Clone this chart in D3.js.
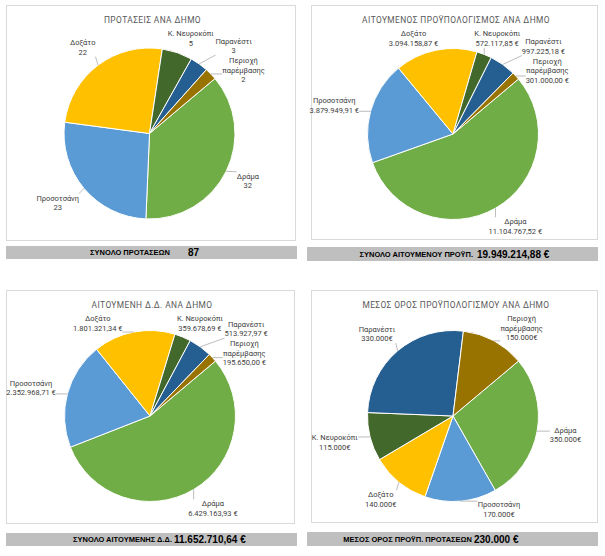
<!DOCTYPE html>
<html lang="el">
<head>
<meta charset="utf-8">
<title>Προτάσεις ανά Δήμο</title>
<script src="https://d3js.org/d3.v7.min.js"></script>
<style>
  body { margin: 0; background: #fff; }
  svg { display: block; }
  .ttl { font-family: Roboto, "Liberation Sans", sans-serif; font-size: 8.4px; fill: #595959; letter-spacing: 0.4px; }
  .lbl { font-family: Roboto, "Liberation Sans", sans-serif; font-size: 7.5px; fill: #404040; }
  .tot { font-family: "Liberation Sans", Arial, sans-serif; font-weight: bold; fill: #000; }
</style>
</head>
<body>
<div id="chart"></div>
<script>
// data (same municipality order in every pie)
var municipalities = ["Δράμα", "Προσοτσάνη", "Δοξάτο", "Κ. Νευροκόπι", "Παρανέστι", "Περιοχή παρέμβασης"];
var proposals = [32, 23, 22, 5, 3, 2];
var requestedBudget = [11104767.52, 3879949.91, 3094158.87, 572117.85, 997225.18, 301000.00];
var requestedPublic = [6429163.93, 2352968.71, 1801321.34, 359678.69, 513927.97, 195650.00];
var averageBudget = [350000, 170000, 140000, 115000, 330000, 150000];

var titles = ["ΠΡΟΤΑΣΕΙΣ ΑΝΑ ΔΗΜΟ", "ΑΙΤΟΥΜΕΝΟΣ ΠΡΟΫΠΟΛΟΓΙΣΜΟΣ ΑΝΑ ΔΗΜΟ",
              "ΑΙΤΟΥΜΕΝΗ Δ.Δ. ΑΝΑ ΔΗΜΟ", "ΜΕΣΟΣ ΟΡΟΣ ΠΡΟΫΠΟΛΟΓΙΣΜΟΥ ΑΝΑ ΔΗΜΟ"];
var totalLabels = ["ΣΥΝΟΛΟ ΠΡΟΤΑΣΕΩΝ", "ΣΥΝΟΛΟ ΑΙΤΟΥΜΕΝΟΥ ΠΡΟΫΠ.",
                   "ΣΥΝΟΛΟ ΑΙΤΟΥΜΕΝΗΣ Δ.Δ.", "ΜΕΣΟΣ ΟΡΟΣ ΠΡΟΫΠ. ΠΡΟΤΑΣΕΩΝ"];
var totals = [87, 19949214.88, 11652710.64, 230000];

var colors = ["#70AD47", "#5B9BD5", "#FFC000", "#43682B", "#255E91", "#997300"];

var gr = d3.formatLocale({decimal: ",", thousands: ".", grouping: [3], currency: ["", " €"]});
var fInt = gr.format(",d");
var fEur2 = function(v) { return gr.format(",.2f")(v) + " €"; };
var fEur0 = function(v) { return gr.format(",d")(v) + "€"; };
var fEur0s = function(v) { return gr.format(",d")(v) + " €"; };

var W = 605, H = 556, R = 85.5, GAP = 13;

var panels = [
  {values: proposals, fmt: fInt, totFmt: fInt,
   box: [6, 5, 289, 235], bar: [6, 246, 291, 13], cx: 149.5, cy: 133.5, labelEnd: 170, valueStart: 188},
  {values: requestedBudget, fmt: fEur2, totFmt: fEur2,
   box: [311, 5, 286, 234], bar: [307, 247, 291, 14], cx: 453, cy: 134, labelEnd: 473, valueStart: 477},
  {values: requestedPublic, fmt: fEur2, totFmt: fEur2,
   box: [6, 290, 288, 233], bar: [6, 533, 291, 13], cx: 150, cy: 416, labelEnd: 172, valueStart: 174},
  {values: averageBudget, fmt: fEur0, totFmt: fEur0s,
   box: [311, 290, 286, 232], bar: [307, 532, 291, 14], cx: 453, cy: 416, labelEnd: 472, valueStart: 474}
];

var svg = d3.select("#chart").append("svg")
  .attr("width", W).attr("height", H);

var pie = d3.pie().sort(null)
  .startAngle(50 * Math.PI / 180)
  .endAngle(50 * Math.PI / 180 + 2 * Math.PI);
var arc = d3.arc().innerRadius(0).outerRadius(R);

function overlaps(a, b) {
  return a.x < b.x + b.w + 1 && b.x < a.x + a.w + 1 && a.y < b.y + b.h + 1 && b.y < a.y + a.h + 1;
}
function hitsCircle(b, cx, cy, r) {
  var nx = Math.max(b.x, Math.min(cx, b.x + b.w));
  var ny = Math.max(b.y, Math.min(cy, b.y + b.h));
  return Math.hypot(nx - cx, ny - cy) < r;
}

panels.forEach(function(p, pi) {
  var g = svg.append("g");

  // chart frame
  g.append("rect")
    .attr("x", p.box[0] + 0.5).attr("y", p.box[1] + 0.5)
    .attr("width", p.box[2]).attr("height", p.box[3])
    .attr("fill", "#fff").attr("stroke", "#D9D9D9").attr("stroke-width", 1);

  var title = g.append("text").attr("class", "ttl")
    .attr("x", p.box[0] + p.box[2] / 2 + 2).attr("y", p.box[1] + 18)
    .attr("text-anchor", "middle")
    .text(titles[pi]);

  // slices
  var arcs = pie(p.values);
  var pg = g.append("g").attr("transform", "translate(" + p.cx + "," + p.cy + ")");
  pg.selectAll("path").data(arcs).enter().append("path")
    .attr("d", arc)
    .attr("fill", function(d, i) { return colors[i]; })
    .attr("stroke", "#fff").attr("stroke-width", 1);

  // data labels, pushed apart when they collide
  var tb = title.node().getBBox();
  var placed = [{x: tb.x - 2, y: tb.y - 2, w: tb.width + 4, h: tb.height + 5}];
  var lo = {x0: p.box[0] + 3, x1: p.box[0] + p.box[2] - 3, y0: p.box[1] + 3, y1: p.box[1] + p.box[3] - 3};
  var lines = g.append("g");
  var order = arcs.map(function(a, i) { return i; }).sort(function(a, b) {
    var ma = ((arcs[a].startAngle + arcs[a].endAngle) / 2) % (2 * Math.PI);
    var mb = ((arcs[b].startAngle + arcs[b].endAngle) / 2) % (2 * Math.PI);
    return ma - mb;
  });

  order.forEach(function(i) {
    var a = arcs[i];
    var mid = (a.startAngle + a.endAngle) / 2;
    var ux = Math.sin(mid), uy = -Math.cos(mid);
    var name = municipalities[i];
    var rows = name.indexOf(" ") > 0 && name.length > 14 ? name.split(" ") : [name];
    rows.push(p.fmt(p.values[i]));

    var t = g.append("text").attr("class", "lbl").attr("text-anchor", "middle");
    rows.forEach(function(r, k) {
      t.append("tspan").attr("x", 0).attr("y", k * 9.5).text(r);
    });
    var bb = t.node().getBBox();
    var w = bb.width, h = bb.height;
    var ax = p.cx + (R + GAP) * ux, ay = p.cy + (R + GAP) * uy;
    var base = {x: ax + ux * w / 2 - w / 2, y: ay + uy * h / 2 - h / 2, w: w, h: h};
    var sx = ux >= 0 ? 1 : -1;
    // [dx, dy, cost weight]: sideways first, then down, up is least liked
    var dirs = [[sx, 0, 1], [0, 1, 1], [0, -1, 2.5]];
    var best = null;
    dirs.forEach(function(dv) {
      for (var s = 0; s <= 90; s += 0.5) {
        var c = {x: base.x + dv[0] * s, y: base.y + dv[1] * s, w: w, h: h};
        var k = 0;
        while (hitsCircle(c, p.cx, p.cy, R + 2) && k < 80) { c.x += sx * 0.5; k += 0.5; }
        if (c.x < lo.x0 || c.x + w > lo.x1 || c.y < lo.y0 || c.y + h > lo.y1) continue;
        if (placed.some(function(o) { return overlaps(c, o); })) continue;
        var cost = (s + k) * dv[2];
        if (!best || cost < best.cost) best = {box: c, cost: cost};
        break;
      }
    });
    var fb = best ? best.box : base;
    placed.push(fb);
    t.attr("transform", "translate(" + (fb.x - bb.x) + "," + (fb.y - bb.y) + ")");

    // leader line from slice edge to the label box
    var ex = p.cx + R * ux, ey = p.cy + R * uy;
    var nx = Math.max(fb.x, Math.min(ex, fb.x + fb.w));
    var ny = Math.max(fb.y, Math.min(ey, fb.y + fb.h));
    if (Math.hypot(nx - ex, ny - ey) > 5) {
      lines.append("line")
        .attr("x1", ex).attr("y1", ey).attr("x2", nx).attr("y2", ny)
        .attr("stroke", "#A6A6A6").attr("stroke-width", 0.75);
    }
  });

  // total bar below the chart
  var by = p.bar[1] + p.bar[3] / 2;
  g.append("rect")
    .attr("x", p.bar[0]).attr("y", p.bar[1])
    .attr("width", p.bar[2]).attr("height", p.bar[3])
    .attr("fill", "#BFBFBF");
  g.append("text").attr("class", "tot")
    .attr("x", p.labelEnd).attr("y", by + 2.7)
    .attr("text-anchor", "end").attr("font-size", "7.5px")
    .text(totalLabels[pi]);
  g.append("text").attr("class", "tot")
    .attr("x", p.valueStart).attr("y", by + 3.6)
    .attr("font-size", "10px")
    .text(p.totFmt(totals[pi]));
});
</script>
</body>
</html>
